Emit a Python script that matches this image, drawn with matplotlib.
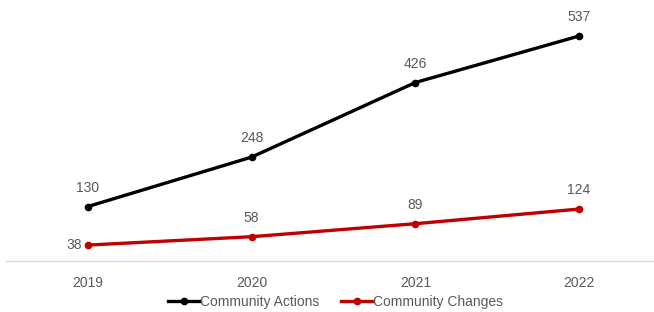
import matplotlib
matplotlib.use("Agg")
import matplotlib.pyplot as plt

years = ["2019", "2020", "2021", "2022"]
actions = [130, 248, 426, 537]
changes = [38, 58, 89, 124]

plt.rcParams['font.family'] = ['Liberation Sans', 'DejaVu Sans']
gray = '#595959'

W, H = 654, 312
fig = plt.figure(figsize=(W/100, H/100), dpi=100)
# axes: x=-0.5 at 6px, x=3.5 at 661px; y=0 at 261px (from top), top at 0
x0, x1 = 6, 661
ax = fig.add_axes([x0/W, (H-261)/H, (x1-x0)/W, 261/H])
ax.set_xlim(-0.5, 3.5)
ax.set_ylim(0, 261/0.419)

fs = 10
xs = range(len(years))
ax.plot(xs, actions, color='black', lw=2.4, marker='o', ms=4.5, label='Community Actions', zorder=3, clip_on=False)
ax.plot(xs, changes, color='#c00000', lw=2.4, marker='o', ms=4.5, label='Community Changes', zorder=3, clip_on=False)

for i, v in enumerate(actions):
    ax.annotate(str(v), (i, v), xytext=(0, 8.5), textcoords='offset points', ha='center', va='bottom', color=gray, fontsize=fs)
for i, v in enumerate(changes):
    if i == 0:
        ax.annotate(str(v), (i, v), xytext=(-4, 0), textcoords='offset points', ha='right', va='center', color=gray, fontsize=fs)
    else:
        ax.annotate(str(v), (i, v), xytext=(0, 8.5), textcoords='offset points', ha='center', va='bottom', color=gray, fontsize=fs)

for s in ['top', 'right', 'left']:
    ax.spines[s].set_visible(False)
ax.spines['bottom'].set_color('#d9d9d9')
ax.spines['bottom'].set_linewidth(1)
ax.set_xticks(list(xs))
ax.set_xticklabels(years, color=gray, fontsize=fs)
ax.tick_params(axis='x', length=0, pad=11)
ax.set_yticks([])

fig.legend(loc='lower center', bbox_to_anchor=(0.513, -0.03), ncol=2, frameon=False,
           fontsize=fs, labelcolor=gray, handlelength=2.3, handletextpad=0.0, columnspacing=1.6)

fig.savefig('out.png', dpi=100)
